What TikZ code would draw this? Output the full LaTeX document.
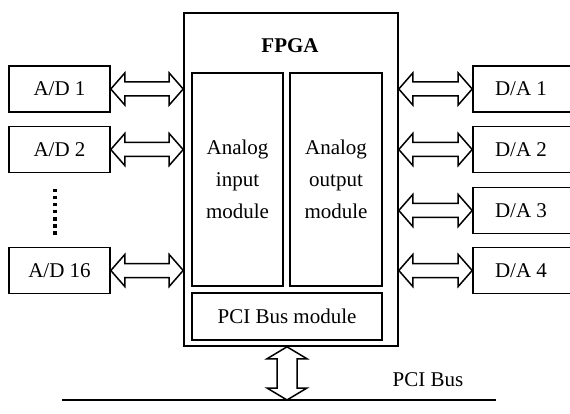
\documentclass[tikz,border=0pt]{standalone}
\usepackage{fontspec}
\setmainfont{Liberation Serif}
\usetikzlibrary{calc}
\newcommand{\hdarrow}[2]{\draw[dblarr] (#1) -- ++(14,-16) -- ++(0,9) -- ($(#2)+(-14,-7)$) -- ++(0,-9) -- (#2) -- ++(-14,16) -- ++(0,-9) -- ($(#1)+(14,7)$) -- ++(0,9) -- cycle;}
\newcommand{\vdarrow}[2]{\draw[dblarr] (#1) -- ++(20,12) -- ++(-10,0) -- ($(#2)+(10,-12)$) -- ++(10,0) -- (#2) -- ++(-20,-12) -- ++(10,0) -- ($(#1)+(-10,12)$) -- ++(-10,0) -- cycle;}
\begin{document}
\begin{tikzpicture}[x=1pt,y=-1pt,
  box/.style={draw,line width=1.6pt,inner sep=0pt,font=\fontsize{21}{32}\selectfont},
  dblarr/.style={line width=1.5pt,line join=miter,fill=white},
  lbl/.style={inner sep=0pt,font=\fontsize{21}{32}\selectfont}]
\useasboundingbox (0,0) rectangle (570,414);
% left converters
\node[box,minimum width=101pt,minimum height=46pt] (ad1) at (59.5,89) {A/D 1};
\node[box,minimum width=101pt,minimum height=46pt] (ad2) at (59.5,149.5) {A/D 2};
\node[box,minimum width=101pt,minimum height=46pt] (ad16) at (59.5,270.5) {A/D 16};
% right converters
\node[box,minimum width=98pt,minimum height=46pt] (da1) at (522,89) {\hspace*{-1pt}D/A 1\hspace*{1pt}};
\node[box,minimum width=98pt,minimum height=46pt] (da2) at (522,149.5) {\hspace*{-1pt}D/A 2\hspace*{1pt}};
\node[box,minimum width=98pt,minimum height=46pt] (da3) at (522,210.5) {\hspace*{-1pt}D/A 3\hspace*{1pt}};
\node[box,minimum width=98pt,minimum height=46pt] (da4) at (522,270.5) {\hspace*{-1pt}D/A 4\hspace*{1pt}};
% FPGA
\node[box,minimum width=214pt,minimum height=333pt] (fpga) at (291,179.5) {};
\node[lbl,font=\fontsize{21}{32}\selectfont\bfseries] (fpgalbl) at (290,46) {FPGA};
\node[box,minimum width=91pt,minimum height=213pt,align=center] (ai) at (237.5,179.5) {Analog\\input\\module};
\node[box,minimum width=92pt,minimum height=213pt,align=center] (ao) at (336,179.5) {Analog\\output\\module};
\node[box,minimum width=190pt,minimum height=47pt] (pcim) at (287,316.5) {PCI Bus module};
% dots
\coordinate (dtop) at (55,189);
\coordinate (dbot) at (55,238);
\draw[line width=3.5pt,dash pattern=on 3.5pt off 3.5pt] (dtop) -- (dbot);
% left arrows
\coordinate (l1) at (ad1.east -| fpga.west);
\coordinate (l2) at (ad2.east -| fpga.west);
\coordinate (l16) at (ad16.east -| fpga.west);
\hdarrow{ad1.east}{l1}
\hdarrow{ad2.east}{l2}
\hdarrow{ad16.east}{l16}
% right arrows
\coordinate (r1) at (da1.west -| fpga.east);
\coordinate (r2) at (da2.west -| fpga.east);
\coordinate (r3) at (da3.west -| fpga.east);
\coordinate (r4) at (da4.west -| fpga.east);
\hdarrow{r1}{da1.west}
\hdarrow{r2}{da2.west}
\hdarrow{r3}{da3.west}
\hdarrow{r4}{da4.west}
% PCI bus
\coordinate (busL) at (62,400);
\coordinate (busR) at (496,400);
\draw[line width=1.6pt] (busL) -- (busR);
\coordinate (bt) at (287,400);
\coordinate (btop) at (bt |- fpga.south);
\vdarrow{btop}{bt}
\node[lbl] (buslbl) at (428,380) {PCI Bus};
\end{tikzpicture}
\end{document}
